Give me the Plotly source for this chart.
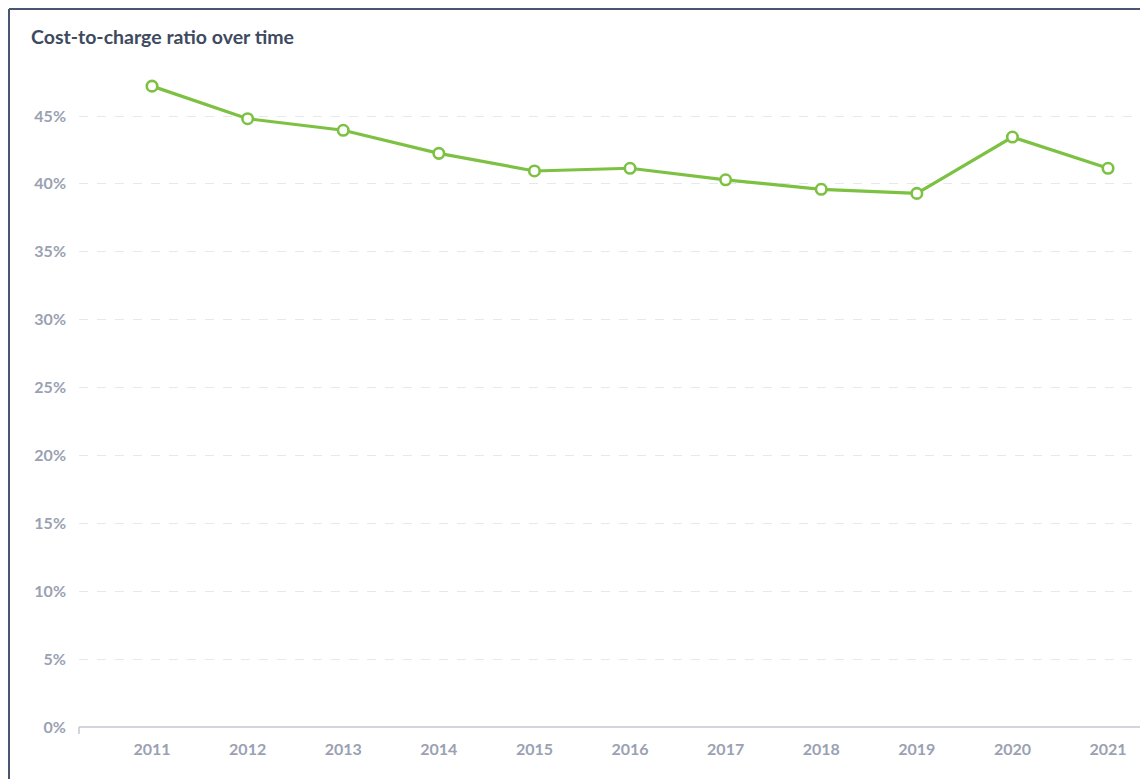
import plotly.graph_objects as go

years = [2011, 2012, 2013, 2014, 2015, 2016, 2017, 2018, 2019, 2020, 2021]
ratio = [47.2, 44.8, 43.95, 42.25, 40.95, 41.15, 40.3, 39.6, 39.3, 43.45, 41.15]
y_ticks = [0, 5, 10, 15, 20, 25, 30, 35, 40, 45]
y_tick_labels = [f"{v}%" for v in y_ticks]
title_text = "Cost-to-charge ratio over time"

# page body has an 8px margin; figure coordinates are offset by it
OFF = 8
W, H = 1148 - OFF, 779 - OFF
L, T, B = 79 - OFF, 62 - OFF, 52
PW, PH = W - L, H - T - B

fig = go.Figure()
fig.add_trace(go.Scatter(
    x=years, y=ratio, mode="lines+markers",
    line=dict(color="#7dc143", width=3.2),
    marker=dict(symbol="circle", size=10.5, color="white",
                line=dict(color="#7dc143", width=2.6)),
    hoverinfo="x+y", showlegend=False,
))

tick_font = dict(family="Lato", size=16, color="#9aa1b2", weight="bold")

fig.update_layout(
    width=W, height=H,
    margin=dict(l=L, r=0, t=T, b=B),
    paper_bgcolor="white", plot_bgcolor="white",
    font=dict(family="Lato", color="#9aa1b2"),
    xaxis=dict(
        range=[2010.236, 2010.236 + PW / 95.6], tickmode="array", tickvals=years,
        ticktext=[str(y) for y in years],
        showgrid=False, zeroline=False, showline=False,
        ticks="", tickfont=tick_font, ticklabelstandoff=11,
    ),
    yaxis=dict(
        range=[0, PH / (611 / 45)], tickmode="array", tickvals=y_ticks, ticktext=y_tick_labels,
        showgrid=True, gridcolor="#e8e8e8", griddash="dash", gridwidth=1,
        zeroline=False, showline=False, ticks="",
        tickfont=tick_font, ticklabelstandoff=12,
    ),
)

def px(x):
    return (x - OFF - L) / PW

def py(y):
    return (H - B - (y - OFF)) / PH

fig.add_annotation(text=title_text, xref="paper", yref="paper", x=px(29), y=py(36),
                   xanchor="left", yanchor="middle", showarrow=False,
                   font=dict(family="Lato", size=19.5, color="#3e4a5f", weight="bold"))

# x axis baseline with small left tick
fig.add_shape(type="line", xref="paper", yref="paper", x0=0, x1=1, y0=0, y1=0,
              line=dict(color="#c3c7cf", width=1.5))
fig.add_shape(type="line", xref="paper", yref="paper", x0=0, x1=0, y0=0, y1=py(734),
              line=dict(color="#c3c7cf", width=1.5))

# outer border (left and top)
fig.add_shape(type="line", xref="paper", yref="paper",
              x0=px(9), x1=px(9), y0=py(9), y1=py(790),
              line=dict(color="#4a5570", width=2))
fig.add_shape(type="line", xref="paper", yref="paper",
              x0=px(9), x1=1.01, y0=py(9), y1=py(9),
              line=dict(color="#4a5570", width=2))

fig.write_html("out.html")
